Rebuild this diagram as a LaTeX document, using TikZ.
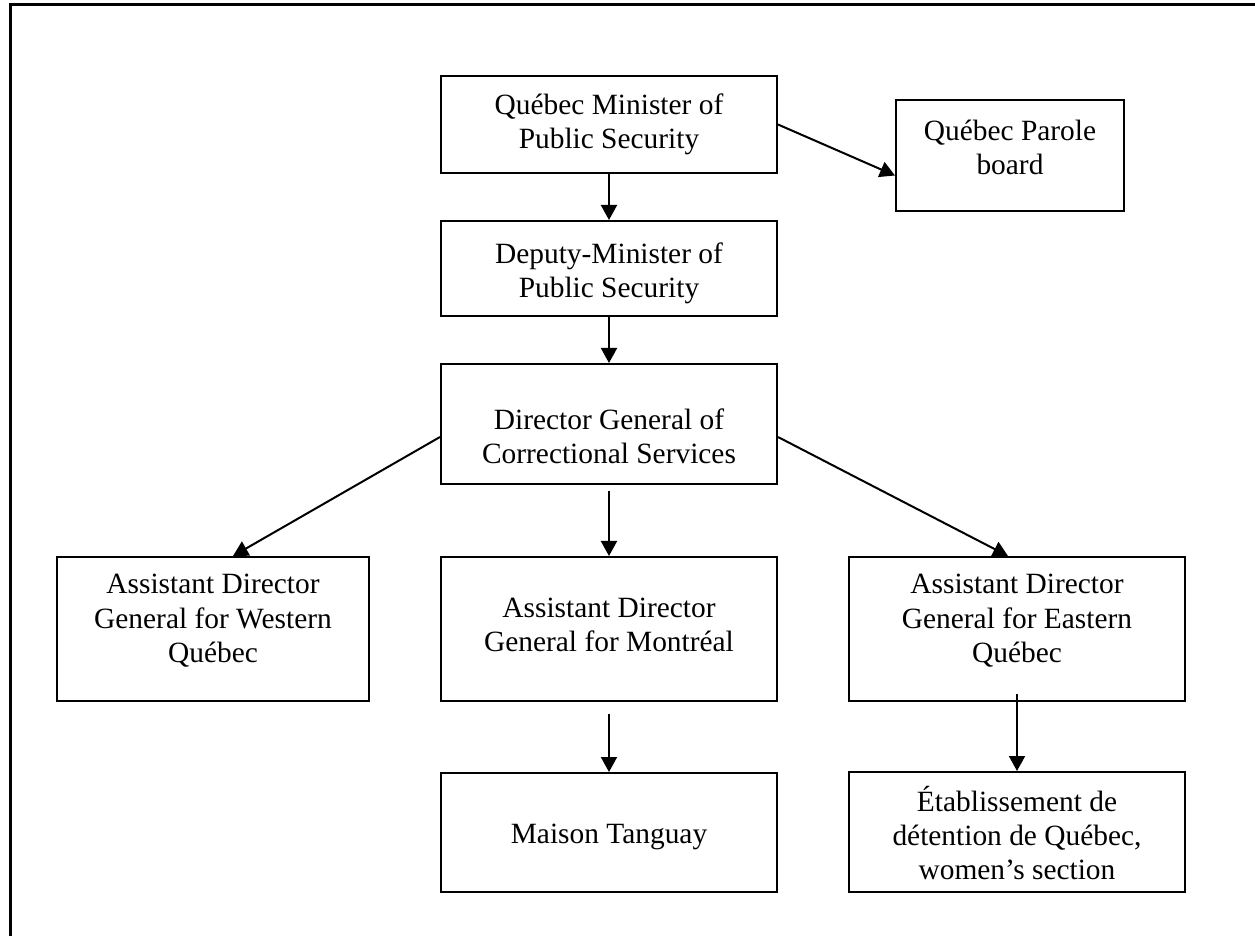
\documentclass[tikz,border=0pt]{standalone}
\usepackage{fontspec}
\setmainfont{Liberation Serif}
\usetikzlibrary{arrows.meta}

\begin{document}
\begin{tikzpicture}[x = 0.5pt, y = -0.5pt, line width = 1pt,
                        box/.style = {rectangle, draw, minimum width = 168pt, inner sep = 0pt},
                        lbl/.style = {align = center, inner sep = 0pt,
                                      font = \fontsize{14.7}{17.2}\selectfont},
                        link/.style = {-{Triangle[length = 7.5pt, width = 8pt]}}]
      \useasboundingbox (0, 0) rectangle (1255, 936);
      % frame
      \draw [line width = 1.5pt] (1255, 5) -- (10, 5) -- (10, 936);

      \node [box, minimum height = 48.5pt] (minister) at (609, 124.5){};
      \node [box, minimum width = 114pt, minimum height = 55.5pt] (parole) at (1010, 155.5){};
      \node [box, minimum height = 47.5pt] (deputy) at (609, 268.5){};
      \node [box, minimum height = 60pt] (director) at (609, 424){};
      \node [box, minimum width = 156pt, minimum height = 72pt] (west) at (213, 629){};
      \node [box, minimum height = 72pt] (montreal) at (609, 629){};
      \node [box, minimum height = 72pt] (east) at (1017, 629){};
      \node [box, minimum height = 59.5pt] (tanguay) at (609, 832.5){};
      \node [box, minimum height = 60pt] (etab) at (1017, 832){};

      \node [lbl] (minister-t) at (minister.center){Québec Minister of\\Public Security};
      \node [lbl] (parole-t) at ([yshift = 4pt]parole.center){Québec Parole\\board};
      \node [lbl] (deputy-t) at ([yshift = -2.5pt]deputy.center){Deputy-Minister of\\Public Security};
      \node [lbl] (director-t) at ([yshift = -6pt]director.center){Director General of\\Correctional Services};
      \node [lbl] (west-t) at ([yshift = 4pt]west.center){Assistant Director\\General for Western\\Québec};
      \node [lbl] (montreal-t) at ([yshift = 2pt]montreal.center){Assistant Director\\General for Montréal};
      \node [lbl] (east-t) at ([yshift = 4pt]east.center){Assistant Director\\General for Eastern\\Québec};
      \node [lbl] (tanguay-t) at ([yshift = -2pt]tanguay.center){Maison Tanguay};
      \node [lbl] (etab-t) at ([yshift = -0.5pt]etab.center){Établissement de\\détention de Québec,\\women’s section};

      \draw [link] (minister.east) -- ([yshift = -10pt]parole.west);
      \draw [link] (minister.south) -- (deputy.north);
      \draw [link] (deputy.south) -- (director.north);
      \draw [link] ([yshift = -6.5pt]director.west) -- ([xshift = 10pt]west.north);
      \draw [link] ([yshift = -3pt]director.south) -- (montreal.north);
      \draw [link] ([yshift = -6.5pt]director.east) -- ([xshift = -4.5pt]east.north);
      \draw [link] ([yshift = -6pt]montreal.south) -- (tanguay.north);
      \draw [link] ([yshift = 4pt]east.south) -- (etab.north);
    \end{tikzpicture}
\end{document}
